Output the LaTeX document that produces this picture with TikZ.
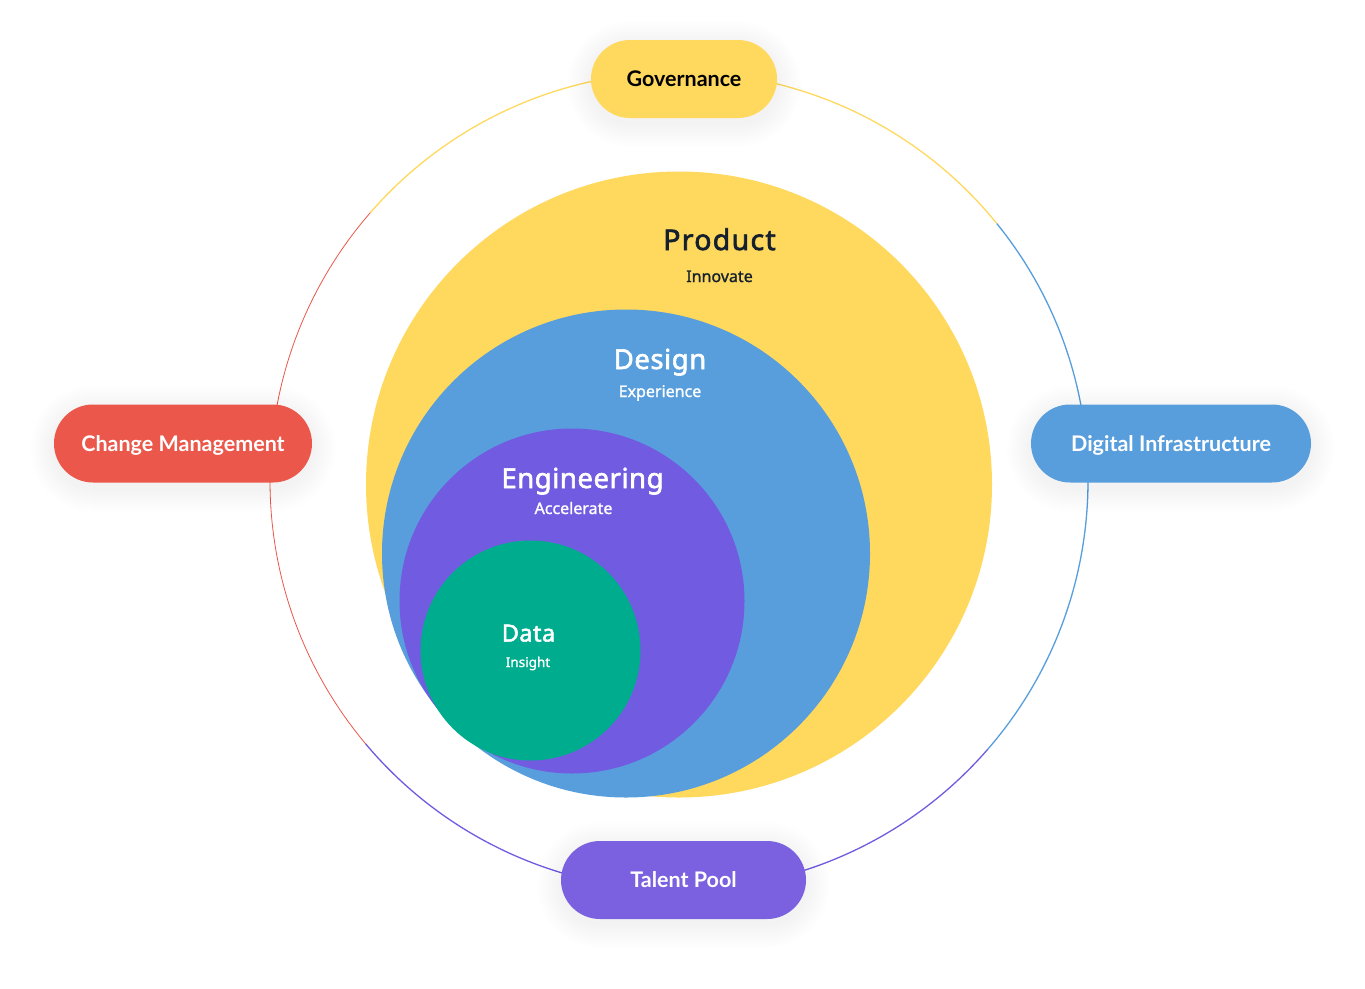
\documentclass[tikz,border=0pt]{standalone}
\usepackage{fontspec}
\setmainfont{Noto Sans}
\newfontfamily\pillfont{Lato}
\newfontfamily\titlefont[FakeBold=2.2, LetterSpace=2]{Noto Sans}
\newfontfamily\bigtitlefont[FakeBold=2.4, LetterSpace=4.5]{Noto Sans}
\newfontfamily\subfont[FakeBold=1.2]{Noto Sans}
\definecolor{cyellow}{HTML}{FFD95E}
\definecolor{cblue}{HTML}{589EDD}
\definecolor{cpurple}{HTML}{715BE0}
\definecolor{cpill}{HTML}{7B61E0}
\definecolor{cgreen}{HTML}{00AC8E}
\definecolor{cred}{HTML}{EB574A}
\definecolor{cnavy}{HTML}{14202E}
\tikzset{
  pill/.style={rounded corners=39pt, minimum height=78pt, inner sep=0pt,
    font=\pillfont\bfseries\fontsize{21.5}{24}\selectfont, text height=15.4pt, text depth=0pt},
  title/.style={anchor=base, font=\titlefont\fontsize{27.5}{30}\selectfont},
  subtitle/.style={anchor=base, font=\subfont\fontsize{16}{19}\selectfont},
  ring/.style={line width=1.3pt}
}
\newcommand\pillshadow[3]{% x, y, width
  \foreach \s in {2,4,...,24}{
    \fill[black, opacity=0.0035, rounded corners=39pt+\s pt]
      (#1-#3/2-\s, #2-39-\s+5) rectangle (#1+#3/2+\s, #2+39+\s+5);
  }
}
\begin{document}
\begin{tikzpicture}[x=1pt,y=-1pt]
\useasboundingbox (0,0) rectangle (1365,988);
\fill[white] (0,0) rectangle (1365,988);
\coordinate (c) at (679,481);
% outer ring segments
\draw[ring, cyellow] (c) ++(-139:409) arc[start angle=-139, end angle=-39, radius=409];
\draw[ring, cblue] (c) ++(-39:409) arc[start angle=-39, end angle=41, radius=409];
\draw[ring, cpurple] (c) ++(41:409) arc[start angle=41, end angle=140, radius=409];
\draw[ring, cred, line width=0.8pt] (c) ++(140:409) arc[start angle=140, end angle=221, radius=409];
% nested circles
\fill[cyellow] (679,484.5) circle[radius=313];
\fill[cblue] (626,553.5) circle[radius=244];
\fill[cpurple] (572,601) circle[radius=172.5];
\fill[cgreen] (530.5,650.5) circle[radius=110];
% circle labels
\node[title, cnavy, font=\bigtitlefont\fontsize{28.5}{31}\selectfont] (prod) at (719.5,250) {Product};
\node[subtitle, cnavy] (prods) at (719.5,282) {Innovate};
\node[title, white] (des) at (660,369) {Design};
\node[subtitle, white] (dess) at (660,397) {Experience};
\node[title, white] (eng) at (582.5,488) {Engineering};
\node[subtitle, white] (engs) at (573.5,514) {Accelerate};
\node[title, white, font=\titlefont\fontsize{23.5}{26}\selectfont] (dat) at (528.5,641.5) {Data};
\node[subtitle, white, font=\subfont\fontsize{13.5}{16}\selectfont] (dats) at (528,667) {Insight};
% pill shadows
\pillshadow{684}{79}{186}
\pillshadow{183}{443.5}{258}
\pillshadow{1171}{443.5}{280}
\pillshadow{683.5}{880}{245}
% pills
\node[pill, fill=cyellow, text=black, minimum width=186pt] (gov) at (684,79) {Governance};
\node[pill, fill=cred, text=white, minimum width=258pt] (chg) at (183,443.5) {Change Management};
\node[pill, fill=cblue, text=white, minimum width=280pt] (dig) at (1171,443.5) {Digital Infrastructure};
\node[pill, fill=cpill, text=white, minimum width=245pt] (tal) at (683.5,880) {Talent Pool};
\end{tikzpicture}
\end{document}
